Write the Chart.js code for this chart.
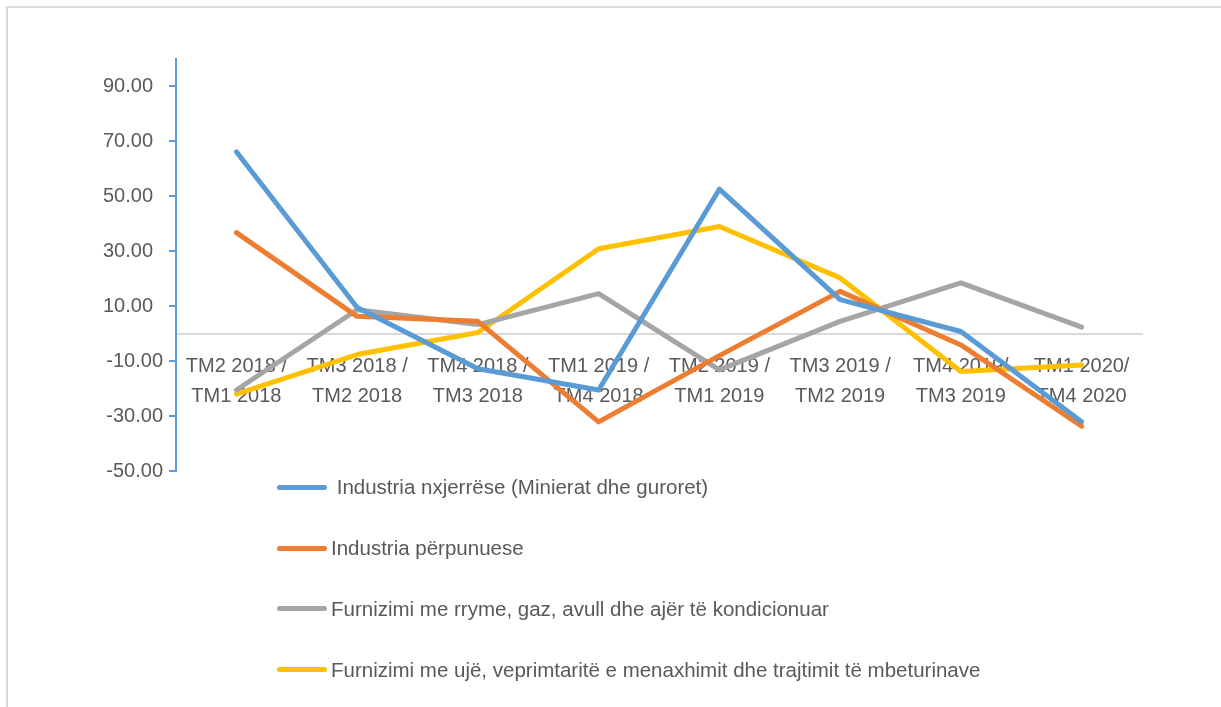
<!DOCTYPE html>
<html>
<head>
<meta charset="utf-8">
<script src="https://cdn.jsdelivr.net/npm/chart.js@4.4.1/dist/chart.umd.min.js"></script>
<style>
  html, body { margin: 0; padding: 0; background: #fff; }
  #wrap { position: relative; width: 1221px; height: 707px; overflow: hidden; }
  #frame { position: absolute; left: 6px; top: 6px; width: 1300px; height: 800px;
           border-left: 2px solid #d9d9d9; border-top: 2px solid #d9d9d9; }
  #legend { position: absolute; left: 277px; top: 457px; }
  .item { display: flex; align-items: center; height: 60.8px; }
  .swatch { width: 50px; height: 5px; border-radius: 3px; margin-right: 4px; }
  .txt { font-family: 'Liberation Sans', sans-serif; font-size: 20.5px;
         color: #595959; white-space: pre; }
</style>
</head>
<body>
<div id="wrap">
  <div id="frame"></div>
  <canvas id="chart" width="1221" height="707"></canvas>
  <div id="legend"></div>
</div>
<script>
const FONT = "'Liberation Sans', sans-serif";

const periods = [
  ['TM2 2018 /', 'TM1 2018'],
  ['TM3 2018 /', 'TM2 2018'],
  ['TM4 2018 /', 'TM3 2018'],
  ['TM1 2019 /', 'TM4 2018'],
  ['TM2 2019 /', 'TM1 2019'],
  ['TM3 2019 /', 'TM2 2019'],
  ['TM4 2019/', 'TM3 2019'],
  ['TM1 2020/', 'TM4 2020']
];

const yTicks = [-50, -30, -10, 10, 30, 50, 70, 90];

// percent changes per sector
const nxjerrese  = [66.2, 9.5, -12.8, -20.5, 52.6, 12.4, 0.8, -32.1];
const perpunuese = [36.8, 6.3, 4.5, -32.1, -8.0, 15.4, -4.1, -33.7];
const rryme      = [-20.5, 8.7, 3.3, 14.6, -13.2, 4.5, 18.5, 2.4];
const uje        = [-22.0, -7.6, 0.4, 30.9, 39.0, 20.3, -13.8, -11.4];

function line(label, data, color) {
  return {
    label: label,
    data: data,
    borderColor: color,
    backgroundColor: color,
    borderWidth: 5,
    pointRadius: 0,
    borderCapStyle: 'round',
    borderJoinStyle: 'round',
    tension: 0
  };
}

// html legend, one item per row like the original
const htmlLegend = {
  id: 'htmlLegend',
  afterUpdate(chart) {
    const box = document.getElementById('legend');
    box.innerHTML = '';
    chart.data.datasets.forEach(ds => {
      const row = document.createElement('div');
      row.className = 'item';
      const sw = document.createElement('span');
      sw.className = 'swatch';
      sw.style.background = ds.borderColor;
      const t = document.createElement('span');
      t.className = 'txt';
      t.textContent = ds.label;
      row.appendChild(sw);
      row.appendChild(t);
      box.appendChild(row);
    });
  }
};

new Chart(document.getElementById('chart'), {
  type: 'line',
  data: {
    labels: periods,
    datasets: [
      line(' Industria nxjerrëse (Minierat dhe guroret)', nxjerrese, '#5b9bd5'),
      line('Industria përpunuese', perpunuese, '#ed7d31'),
      line('Furnizimi me rryme, gaz, avull dhe ajër të kondicionuar', rryme, '#a5a5a5'),
      line('Furnizimi me ujë, veprimtaritë e menaxhimit dhe trajtimit të mbeturinave', uje, '#ffc000')
    ]
  },
  options: {
    responsive: false,
    animation: false,
    layout: { padding: { left: 0, top: 59, right: 79, bottom: 236 } },
    plugins: {
      legend: { display: false },
      tooltip: { enabled: false }
    },
    scales: {
      x: {
        offset: true,
        position: { y: 0 },
        grid: { display: false, drawTicks: false },
        border: { color: '#d9d9d9', width: 2 },
        ticks: {
          color: '#595959',
          padding: 18,
          maxRotation: 0,
          autoSkip: false,
          font: { family: FONT, size: 20, lineHeight: 1.5 }
        },
        afterFit(scale) { scale.height = 0; }
      },
      y: {
        min: -50,
        max: 100,
        afterBuildTicks(scale) {
          scale.ticks = yTicks.map(v => ({ value: v }));
        },
        grid: { drawOnChartArea: false, drawTicks: true, tickLength: 7, tickColor: '#5b9bd5', lineWidth: 2 },
        border: { color: '#5b9bd5', width: 2 },
        ticks: {
          color: '#595959',
          padding: 6,
          font: { family: FONT, size: 20 },
          callback(v) { return v < 0 ? v.toFixed(2) : v.toFixed(2) + '\u2002'; }
        },
        afterFit(scale) { scale.width = 176; }
      }
    }
  },
  plugins: [htmlLegend]
});
</script>
</body>
</html>
